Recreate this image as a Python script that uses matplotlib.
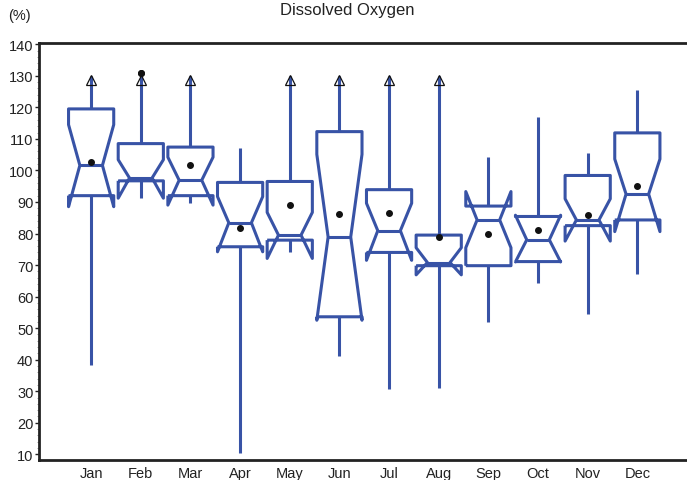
import matplotlib
matplotlib.use('Agg')
from matplotlib import pyplot as plt
from matplotlib.ticker import MultipleLocator

plt.rcParams['font.family'] = ['Liberation Sans', 'DejaVu Sans']

# monthly dissolved oxygen (%) - notched box summaries
months = ['Jan', 'Feb', 'Mar', 'Apr', 'May', 'Jun', 'Jul', 'Aug', 'Sep', 'Oct', 'Nov', 'Dec']
q1 = [92.0, 96.7, 92.0, 75.8, 77.9, 53.6, 74.0, 69.8, 69.8, 71.1, 82.5, 84.3]
med = [101.6, 97.6, 96.9, 83.4, 79.5, 78.9, 80.9, 70.8, 84.3, 78.0, 84.3, 92.5]
q3 = [119.5, 108.5, 107.4, 96.2, 96.5, 112.3, 93.9, 79.5, 88.7, 85.4, 98.4, 111.9]
cilo = [88.5, 91.2, 89.0, 74.2, 72.1, 52.5, 71.5, 66.9, 75.5, 71.0, 77.6, 80.6]
cihi = [114.5, 103.4, 104.2, 91.7, 86.7, 105.1, 89.6, 75.5, 93.3, 85.8, 91.0, 103.6]
whislo = [38.3, 91.2, 89.6, 10.5, 74.0, 41.2, 30.7, 31.0, 52.1, 64.3, 54.6, 67.1]
whishi = [130, 130, 130, 107.1, 130, 130, 130, 130, 104.2, 116.8, 105.6, 125.4]
means = [102.6, 130.8, 101.7, 81.8, 88.9, 86.2, 86.6, 78.9, 80.0, 81.0, 85.8, 95.2]
# whiskers running off the top of the scale get an arrow head
off_scale = [True, True, True, False, True, True, True, True, False, False, False, False]

blue = '#3853a6'

fig = plt.figure(figsize=(6.87, 4.81), dpi=100)
ax = fig.add_axes([39 / 687, 1 - 461 / 481, 1 - 39 / 687, (461 - 44.3) / 481])

stats = []
for i in range(len(months)):
    stats.append({'label': months[i], 'q1': q1[i], 'med': med[i], 'q3': q3[i],
                  'cilo': cilo[i], 'cihi': cihi[i], 'whislo': whislo[i],
                  'whishi': whishi[i], 'mean': means[i], 'fliers': []})

pos = list(range(1, len(months) + 1))
line_kw = dict(color=blue, linewidth=2.2, solid_capstyle='butt')
ax.bxp(stats, positions=pos, widths=0.91, shownotches=True, showmeans=True,
       showcaps=False, showfliers=False,
       boxprops=line_kw, whiskerprops=line_kw, medianprops=line_kw,
       meanprops=dict(marker='o', markerfacecolor='#111111', markeredgecolor='#111111',
                      markersize=4))

# arrow heads for off-scale whiskers
for p, w, flag in zip(pos, whishi, off_scale):
    if flag:
        ax.plot([p], [w - 1.3], marker='^', markersize=7.5, markerfacecolor='none',
                markeredgecolor='#111111', markeredgewidth=0.9, zorder=4)

# Feb mean sits on top of its arrow
ax.plot([2], [means[1]], 'o', color='#111111', markersize=4, zorder=5)

ax.set_xlim(-0.05, 13.0)
ax.set_ylim(8.2, 140.3)
ax.yaxis.set_major_locator(MultipleLocator(10))
ax.yaxis.set_minor_locator(MultipleLocator(2))
ax.set_xticks(pos)
ax.set_xticklabels(months)

for s in ['left', 'bottom', 'top']:
    ax.spines[s].set_linewidth(2.0)
    ax.spines[s].set_color('#222222')
ax.spines['right'].set_visible(False)

ax.tick_params(axis='y', which='major', length=3, width=1, pad=1, labelsize=10.5,
               colors='#222222')
ax.tick_params(axis='y', which='minor', length=1.5, width=0.6, color='#888888')
ax.tick_params(axis='x', length=0, pad=4, labelsize=10.5, colors='#222222')

fig.text(347 / 687, 1 - 10 / 481, 'Dissolved Oxygen', ha='center', va='center',
         fontsize=12, color='#222222')
fig.text(8 / 687, 1 - 16 / 481, '(%)', ha='left', va='center', fontsize=10.5,
         color='#222222')

fig.savefig('out.png', dpi=100)
